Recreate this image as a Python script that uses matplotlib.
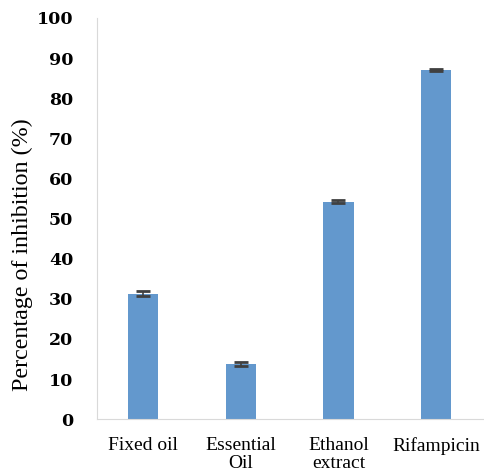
import matplotlib
matplotlib.use("Agg")
import matplotlib.pyplot as plt
import numpy as np

categories = ["Fixed oil", "Essential\nOil", "Ethanol\nextract", "Rifampicin"]
inhibition = [31.3, 13.8, 54.2, 87.0]
errors = [0.6, 0.5, 0.3, 0.3]
yticks = [0, 10, 20, 30, 40, 50, 60, 70, 80, 90, 100]

plt.rcParams["font.family"] = ["Liberation Serif", "DejaVu Serif"]

fig = plt.figure(figsize=(4.84, 4.72), dpi=100)
ax = fig.add_axes([0.2, 0.112, 0.8, 0.85])

x = np.arange(len(categories))
ax.bar(x, inhibition, width=0.31, color="#6398cd", zorder=2)
ax.errorbar(x, inhibition, yerr=errors, fmt="none", ecolor="#404040",
            elinewidth=1.2, capsize=5, capthick=2, zorder=3)

ax.set_xlim(-0.473, 3.49)
ax.set_ylim(0, 100)
ax.set_yticks(yticks)
ax.set_yticklabels([str(t) for t in yticks], fontsize=12.5,
                   fontweight="bold", family="DejaVu Serif")
ax.set_xticks(x)
ax.set_xticklabels(categories, fontsize=14, linespacing=1.08, va="top")
ax.tick_params(axis="y", length=0, pad=17)
ax.tick_params(axis="x", length=0, pad=13)

for side in ("top", "right"):
    ax.spines[side].set_visible(False)
ax.spines["left"].set_color("#d9d9d9")
ax.spines["bottom"].set_color("#d9d9d9")

ax.set_ylabel("Percentage of inhibition (%)", fontsize=17.3)
ax.yaxis.set_label_coords(-0.165, 0.41)

fig.savefig("out.png", dpi=100)
